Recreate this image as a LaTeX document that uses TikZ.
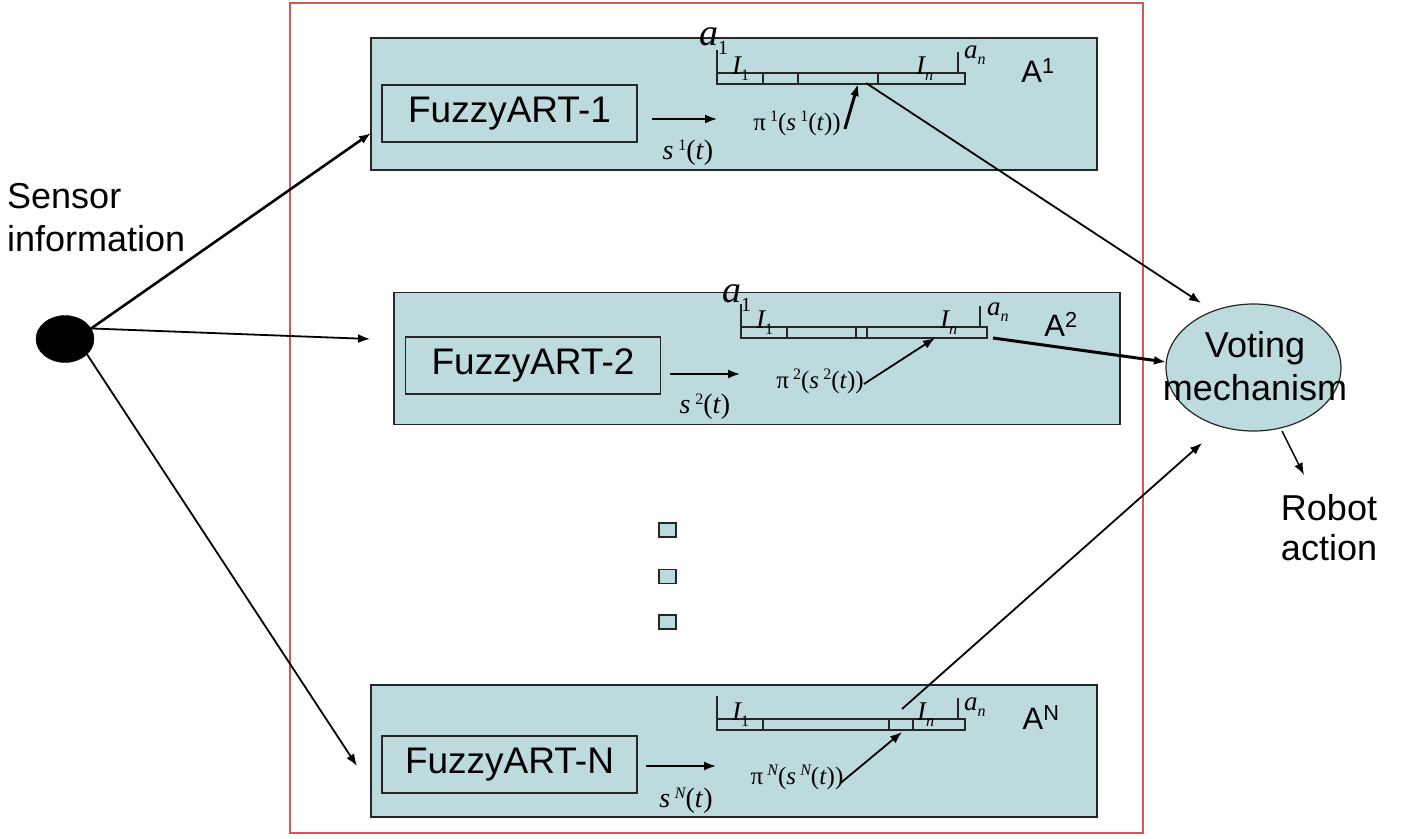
\documentclass[tikz,border=0pt]{standalone}
\usepackage{fontspec}
\setmainfont{Liberation Sans}
\newfontfamily\tms{Liberation Serif}
\usetikzlibrary{shapes.geometric,arrows.meta}
\definecolor{panelfill}{RGB}{189,218,220}
\definecolor{framered}{RGB}{214,86,86}

\tikzset{
  panel/.style={draw=black!85, line width=1.5pt, fill=panelfill,
    minimum width=726pt, minimum height=132pt, inner sep=0pt},
  fabox/.style={draw=black!85, line width=1.2pt, fill=panelfill,
    minimum width=255pt, minimum height=57pt, inner sep=0pt,
    font=\fontsize{37}{40}\selectfont},
  bigtxt/.style={font=\fontsize{36}{43}\selectfont, align=center, inner sep=0pt},
  tag/.style={font=\fontsize{31}{34}\selectfont, inner sep=0pt},
  mlbl/.style={font=\fontsize{25}{27}\tms, inner sep=0pt},
  slbl/.style={font=\fontsize{28}{30}\tms, inner sep=0pt},
  ilbl/.style={font=\fontsize{27}{29}\tms, inner sep=0pt, anchor=base west},
  alblbig/.style={font=\fontsize{38}{40}\tms, inner sep=0pt, anchor=base west},
  dotbox/.style={draw=black!85, line width=1.5pt, fill=panelfill,
    minimum width=17pt, minimum height=14pt, inner sep=0pt},
  barline/.style={draw=black!85, line width=1.2pt},
  tip/.style={-{Latex[length=12pt,width=9pt]}},
  conn/.style={tip, line width=1.8pt},
  thick conn/.style={tip, line width=3pt},
}

% interval bar: left x, top y, right x, list of divider positions
\newcommand\intbar[4]{%
  \draw[barline] (#1,#2) rectangle (#3,#2+11);
  \draw[barline] (#1,#2-23) -- (#1,#2);
  \draw[barline] (#3-7,#2-21) -- (#3-7,#2);
  \foreach \dx in {#4} { \draw[barline] (\dx,#2) -- (\dx,#2+11); }
}
% lowered index in the bar labels
\newcommand\lowidx[1]{\raisebox{-6pt}{\fontsize{16}{16}\selectfont #1}}
\newcommand\supidx[1]{\,\raisebox{9pt}{\fontsize{16}{16}\selectfont #1}}

\begin{document}
\begin{tikzpicture}[x=1pt,y=-1pt]
\useasboundingbox (0,0) rectangle (1407,838);

% outer frame
\draw[framered, line width=1.2pt] (290,3) rectangle (1143,833);

% agent panels
\node[panel] (p1) at (734,104) {};
\node[panel] (p2) at (757,358.5) {};
\node[panel] (pN) at (734,751) {};

\node[fabox] (f1) at (509.5,113.5) {FuzzyART-1};
\node[fabox] (f2) at (533,365.5) {FuzzyART-2};
\node[fabox] (fN) at (509.5,764.5) {FuzzyART-N};

\node[tag] (t1) at (1038,71) {A\textsuperscript{1}};
\node[tag] (t2) at (1061,324) {A\textsuperscript{2}};
\node[tag] (tN) at (1041,718) {A\textsuperscript{N}};

% interval bars
\intbar{717}{73}{965}{763,798,878}
\intbar{741}{327}{987}{787,856,867}
\intbar{717}{719}{965}{763,889,913}

% bar labels
\node[alblbig] (a11) at (699,45) {\itshape a\raisebox{-9pt}{\fontsize{20}{20}\upshape 1}};
\node[ilbl] (i11) at (732,74) {\itshape I\lowidx{\upshape 1}};
\node[ilbl] (in1) at (916,74) {\itshape I\lowidx{n}};
\node[ilbl] (an1) at (964,58) {\itshape a\lowidx{n}};

\node[alblbig] (a12) at (722,302) {\itshape a\raisebox{-9pt}{\fontsize{20}{20}\upshape 1}};
\node[ilbl] (i12) at (756,328) {\itshape I\lowidx{\upshape 1}};
\node[ilbl] (in2) at (940,328) {\itshape I\lowidx{n}};
\node[ilbl] (an2) at (987,315) {\itshape a\lowidx{n}};

\node[ilbl] (i1N) at (732,720) {\itshape I\lowidx{\upshape 1}};
\node[ilbl] (inN) at (917,720) {\itshape I\lowidx{n}};
\node[ilbl] (anN) at (964,710) {\itshape a\lowidx{n}};

% signal labels
\node[slbl] (s1) at (688,153) {\itshape s\supidx{\upshape 1}\upshape(\textit{t})};
\node[slbl] (s2) at (705,407) {\itshape s\supidx{\upshape 2}\upshape(\textit{t})};
\node[slbl] (sN) at (686,801) {\itshape s\supidx{N}\upshape(\textit{t})};

\node[mlbl] (pi1) at (797,123) {π\supidx{1}(\textit{s}\supidx{1}(\textit{t}))};
\node[mlbl] (pi2) at (820,381) {π\supidx{2}(\textit{s}\supidx{2}(\textit{t}))};
\node[mlbl] (piN) at (797,777) {π\supidx{\itshape N}(\textit{s}\supidx{\itshape N}(\textit{t}))};

% reference points on the bars
\coordinate (b1in) at (717,119);
\coordinate (b2in) at (740,374);
\coordinate (bNin) at (716,766);
\coordinate (sel1) at (858,84);
\coordinate (sel2) at (935,338);
\coordinate (selN) at (902,732);
\coordinate (out1) at (866,83);
\coordinate (out2) at (993,338);
\coordinate (outN) at (902,709);

% continuation marks
\node[dotbox] (d1) at (667.5,530) {};
\node[dotbox] (d2) at (667.5,576.5) {};
\node[dotbox] (d3) at (667.5,622) {};

% sensor input
\node[ellipse, fill=black, draw=black, minimum width=58pt, minimum height=47pt, inner sep=0pt] (hub) at (65,339) {};
\node[bigtxt, align=left, anchor=west] (sens) at (7,217.5) {Sensor\\information};
\coordinate (in1) at (371,133);
\coordinate (in2) at (370,339);
\coordinate (inN) at (357,766);

% voting
\node[ellipse, draw=black!85, line width=1.2pt, fill=panelfill, minimum width=175pt, minimum height=127pt, inner sep=0pt] (vote) at (1253.5,367.5) {};
\node[bigtxt] (votetxt) at (1255,366) {Voting\\mechanism};
\node[bigtxt, font=\fontsize{36}{40}\selectfont] (robot) at (1329,528) {Robot\\action};
\coordinate (v1) at (1201,303);
\coordinate (v2) at (1166,362);
\coordinate (vN) at (1202,443);
\coordinate (vo) at (1282,431);
\coordinate (ra) at (1304,475);

% connectors
\draw[thick conn, line width=2.6pt] (hub.22) -- (in1);
\draw[conn] (hub.22) -- (in2);
\draw[conn] (hub.-35) -- (inN);

\draw[conn] (652,119) -- (b1in);
\draw[conn] (670,374) -- (b2in);
\draw[conn] (646,766) -- (bNin);

\draw[thick conn] (pi1.east) ++(4,6) -- (sel1);
\draw[conn] (pi2.east) ++(0,3) -- (sel2);
\draw[conn] (piN.east) ++(-3,6) -- (selN);

\draw[conn] (out1) -- (v1);
\draw[thick conn] (out2) -- (v2);
\draw[conn] (outN) -- (vN);
\draw[conn, line width=1.4pt] (vo) -- (ra);
\end{tikzpicture}
\end{document}
